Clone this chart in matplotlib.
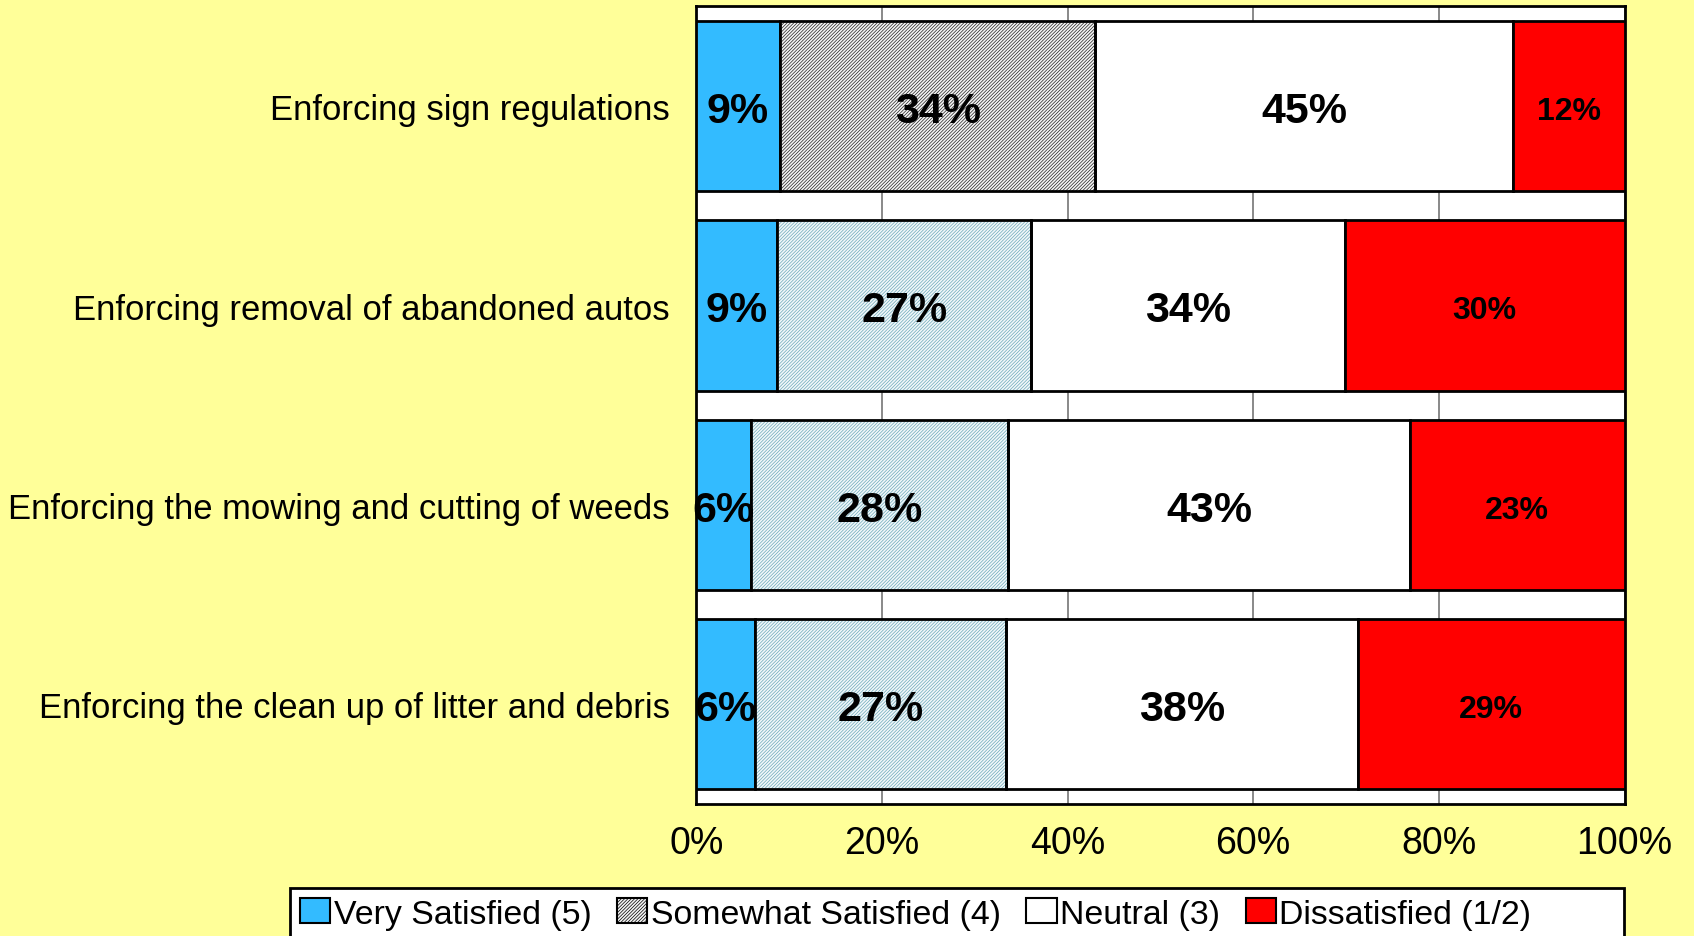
import matplotlib
matplotlib.use("Agg")
import matplotlib.pyplot as plt
from matplotlib.patches import Patch, Rectangle
import numpy as np

categories = [
    "Enforcing sign regulations",
    "Enforcing removal of abandoned autos",
    "Enforcing the mowing and cutting of weeds",
    "Enforcing the clean up of litter and debris",
]
very_satisfied = [9.0, 8.7, 5.9, 6.3]
somewhat_satisfied = [34.0, 27.4, 27.7, 27.1]
neutral = [45.0, 33.8, 43.3, 37.9]
dissatisfied = [12.0, 30.1, 23.1, 28.7]
series_names = ["Very Satisfied (5)", "Somewhat Satisfied (4)", "Neutral (3)", "Dissatisfied (1/2)"]
xticks = [0, 20, 40, 60, 80, 100]

plt.rcParams['font.family'] = ['Liberation Sans', 'DejaVu Sans']
plt.rcParams['hatch.linewidth'] = 0.5

BG = '#FFFF99'
BLUE = '#33BBFF'
RED = '#FF0000'
TEAL = '#6AA8B8'
HATCH = '/' * 10

fig = plt.figure(figsize=(16.94, 9.37), dpi=100, facecolor=BG)
ax = fig.add_axes([0.411, 0.141, 0.548, 0.851])
ax.set_facecolor('white')

y = np.arange(len(categories))
h = 0.854
left = np.zeros(len(categories))
dy = 0.025  # nudge labels down a little


def label(x, yy, v, size):
    ax.text(x, yy + dy, f"{round(v)}%", ha='center', va='center',
            fontsize=size, fontweight='bold', zorder=5)


# very satisfied
ax.barh(y, very_satisfied, h, left=left, color=BLUE, edgecolor='black', lw=2, zorder=3)
for i, v in enumerate(very_satisfied):
    label(left[i] + v / 2, y[i], v, 31)
left += very_satisfied

# somewhat satisfied: first row grey/black hatch, others teal hatch
for i, v in enumerate(somewhat_satisfied):
    if i == 0:
        fc, hc = '#F4F4F4', '#202020'
    else:
        fc, hc = '#F2F8FA', TEAL
    ax.barh(y[i], v, h, left=left[i], color=fc, edgecolor=hc, lw=0, hatch=HATCH, zorder=3)
    ax.barh(y[i], v, h, left=left[i], fill=False, edgecolor='black', lw=2, zorder=4)
    label(left[i] + v / 2, y[i], v, 31)
left += somewhat_satisfied

ax.barh(y, neutral, h, left=left, color='white', edgecolor='black', lw=2, zorder=3)
for i, v in enumerate(neutral):
    label(left[i] + v / 2, y[i], v, 31)
left += neutral

ax.barh(y, dissatisfied, h, left=left, color=RED, edgecolor='black', lw=2, zorder=3)
for i, v in enumerate(dissatisfied):
    label(left[i] + v / 2, y[i], v, 23)

ax.set_xlim(0, 100)
ax.set_ylim(len(categories) - 0.5, -0.5)
ax.set_xticks(xticks)
ax.set_xticklabels([f"{t}%" for t in xticks], fontsize=27)
ax.set_yticks(y)
ax.set_yticklabels(categories, fontsize=24.9)
ax.tick_params(axis='x', length=0, pad=15)
ax.tick_params(axis='y', length=0, pad=19)
ax.grid(axis='x', color='#808080', lw=1.3, zorder=1)
for s in ax.spines.values():
    s.set_linewidth(2)
    s.set_color('black')

# legend box runs off the bottom edge like the original
fig.patches.append(Rectangle((0.171, -0.05), 0.7877, 0.1012, transform=fig.transFigure,
                             facecolor='white', edgecolor='black', lw=2, zorder=1))
handles = [
    Patch(facecolor=BLUE, edgecolor='black', lw=1.5),
    Patch(facecolor='#F4F4F4', edgecolor='black', hatch=HATCH, lw=1.5),
    Patch(facecolor='white', edgecolor='black', lw=1.5),
    Patch(facecolor=RED, edgecolor='black', lw=1.5),
]
leg = fig.legend(handles, series_names, loc='upper left', bbox_to_anchor=(0.171, 0.051),
                 ncol=4, fontsize=24.4, frameon=False, borderpad=0.3,
                 handlelength=0.9, handleheight=0.75, handletextpad=0.1, columnspacing=0.75,
                 borderaxespad=0)
leg.set_zorder(2)

fig.savefig('out.png', dpi=100, facecolor=BG)
